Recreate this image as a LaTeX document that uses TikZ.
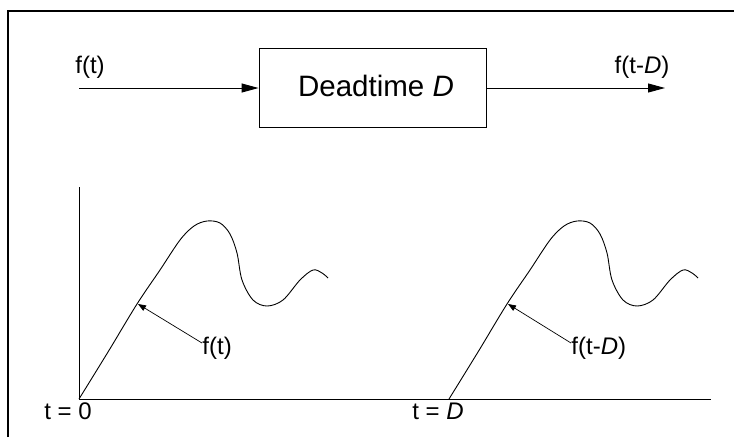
\documentclass[tikz,border=0pt]{standalone}
\usepackage{fontspec}
\setmainfont{Liberation Sans}
\usetikzlibrary{arrows.meta}
\begin{document}
\begin{tikzpicture}[x=1pt,y=-1pt,
  line width=0.9pt,
  bigarrow/.style={-{Triangle[length=17pt,width=9pt]}},
  smallarrow/.style={-{Triangle[length=8pt,width=6pt]}},
  lbl/.style={font=\fontsize{24}{27}\selectfont, inner sep=0pt},
  biglbl/.style={font=\fontsize{29.5}{33}\selectfont, inner sep=0pt}]
\useasboundingbox (0,0) rectangle (734,437);
\fill[white] (0,0) rectangle (734,437);
% frame (cropped at right and bottom)
\draw[line width=1.5pt] (8,437) -- (8,11) -- (734,11);
% block
\node[draw, minimum width=227pt, minimum height=79pt, inner sep=0pt] (box) at (372.5,87.5) {};
\node[biglbl] (boxtext) at (376,86) {Deadtime \textit{D}};
\coordinate (in) at (79,88);
\coordinate (out) at (665,88);
\draw[bigarrow] (in) -- (box.west |- in);
\draw[bigarrow] (box.east |- out) -- (out);
\node[lbl] (fin) at (90,67) {f(t)};
\node[lbl] (fout) at (642,67) {f(t-\textit{D})};
% axes
\coordinate (ytop) at (79,187);
\coordinate (o) at (79,399);
\coordinate (xend) at (711,399);
\draw (ytop) -- (o) -- (xend);
\node[lbl] (t0) at (68,411) {t = 0};
\node[lbl] (tD) at (438,411) {t = \textit{D}};
% curves
\foreach \s/\nm in {0/a,370/b} {
  \begin{scope}[xshift=\s pt]
  \draw plot[smooth, tension=0.55] coordinates {(79,399) (108,352) (137,304) (160,270) (180,240) (194,226) (207,221) (220,223) (230,234) (237,253) (242,280) (253,300) (267,306) (283,300) (300,280) (313,270) (322,273) (328,278)};
  \coordinate (touch\nm) at (138,304);
  \end{scope}
}
\node[lbl, anchor=west] (la) at (202,348) {f(t)};
\node[lbl, anchor=west] (lb) at (571,348) {f(t-\textit{D})};
\draw[smallarrow, line width=0.7pt] (la.west |- 0,343) -- (toucha);
\draw[smallarrow, line width=0.7pt] (lb.west |- 0,343) -- (touchb);
\end{tikzpicture}
\end{document}
